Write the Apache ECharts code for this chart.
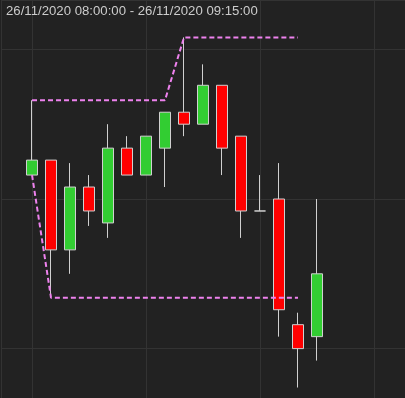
<!DOCTYPE html>
<html>
<head>
<meta charset="utf-8">
<script src="https://cdn.jsdelivr.net/npm/echarts@6/dist/echarts.min.js"></script>
<style>
html,body{margin:0;padding:0;background:#222222;}
#chart{width:405px;height:398px;}
</style>
</head>
<body>
<div id="chart"></div>
<script>
// Data
var times = ['2020-11-26 08:00:00','2020-11-26 08:05:00','2020-11-26 08:10:00','2020-11-26 08:15:00',
  '2020-11-26 08:20:00','2020-11-26 08:25:00','2020-11-26 08:30:00','2020-11-26 08:35:00',
  '2020-11-26 08:40:00','2020-11-26 08:45:00','2020-11-26 08:50:00','2020-11-26 08:55:00',
  '2020-11-26 09:00:00','2020-11-26 09:05:00','2020-11-26 09:10:00','2020-11-26 09:15:00'];
var opens  = [1.19058,1.19063,1.19033,1.19054,1.19042,1.19067,1.19058,1.19067,1.19079,1.19075,1.19088,1.19071,1.19046,1.19050,1.19008,1.19004];
var closes = [1.19063,1.19033,1.19054,1.19046,1.19067,1.19058,1.19071,1.19079,1.19075,1.19088,1.19067,1.19046,1.19046,1.19013,1.19000,1.19025];
var lows   = [1.19058,1.19017,1.19025,1.19041,1.19037,1.19058,1.19058,1.19054,1.19071,1.19075,1.19058,1.19037,1.19046,1.19004,1.18987,1.18996];
var highs  = [1.19083,1.19063,1.19062,1.19058,1.19075,1.19071,1.19071,1.19079,1.19104,1.19095,1.19088,1.19071,1.19058,1.19062,1.19012,1.19050];
var upperLevel = [1.19083,1.19083,1.19083,1.19083,1.19083,1.19083,1.19083,1.19083,1.19104,1.19104,1.19104,1.19104,1.19104,1.19104,1.19104];
var lowerLevel = [1.19058,1.19017,1.19017,1.19017,1.19017,1.19017,1.19017,1.19017,1.19017,1.19017,1.19017,1.19017,1.19017,1.19017,1.19017];
var titleText = '26/11/2020 08:00:00 - 26/11/2020 09:15:00';
var xMin = '2020-11-26 07:51:50';
var xMax = '2020-11-26 09:38:10';
var yMin = 1.189835;
var yMax = 1.191165;

function ts(s) { return Date.parse(s.replace(' ', 'T') + 'Z'); }
var candleData = times.map(function (t, i) { return [ts(t), opens[i], closes[i], lows[i], highs[i]]; });
var upperData = upperLevel.map(function (v, i) { return [ts(times[i]), v]; });
var lowerData = lowerLevel.map(function (v, i) { return [ts(times[i]), v]; });

var chart = echarts.init(document.getElementById('chart'), null, {renderer: 'canvas'});
chart.setOption({
  backgroundColor: '#222222',
  animation: false,
  title: {
    text: titleText,
    left: 1, top: 0,
    textStyle: {color: '#cccccc', fontSize: 13.2, fontWeight: 'normal', fontFamily: 'Liberation Sans, Arial, sans-serif'}
  },
  grid: {left: 1, right: 0, top: 0, bottom: 0, containLabel: false},
  xAxis: {
    type: 'value', min: ts(xMin), max: ts(xMax), splitNumber: 3,
    minInterval: 1800000, maxInterval: 1800000,
    axisLabel: {show: false}, axisTick: {show: false}, axisLine: {show: false},
    splitLine: {show: true, lineStyle: {color: '#333333', width: 1}}
  },
  yAxis: {
    type: 'value', min: yMin, max: yMax, scale: true, splitNumber: 3,
    axisLabel: {show: false}, axisTick: {show: false}, axisLine: {show: false},
    splitLine: {show: true, lineStyle: {color: '#333333', width: 1}}
  },
  series: [
    {
      type: 'candlestick',
      data: candleData,
      barWidth: 11,
      itemStyle: {
        color: '#32cd32', color0: '#ff0000',
        borderColor: '#d0d0d0', borderColor0: '#d0d0d0', borderWidth: 1
      },
      z: 2
    },
    {
      type: 'line', data: upperData, showSymbol: false, symbol: 'none',
      lineStyle: {color: '#ee82ee', width: 2, type: [5, 3]}, z: 3
    },
    {
      type: 'line', data: lowerData, showSymbol: false, symbol: 'none',
      lineStyle: {color: '#ee82ee', width: 2, type: [5, 3]}, z: 3
    }
  ]
});
</script>
</body>
</html>
